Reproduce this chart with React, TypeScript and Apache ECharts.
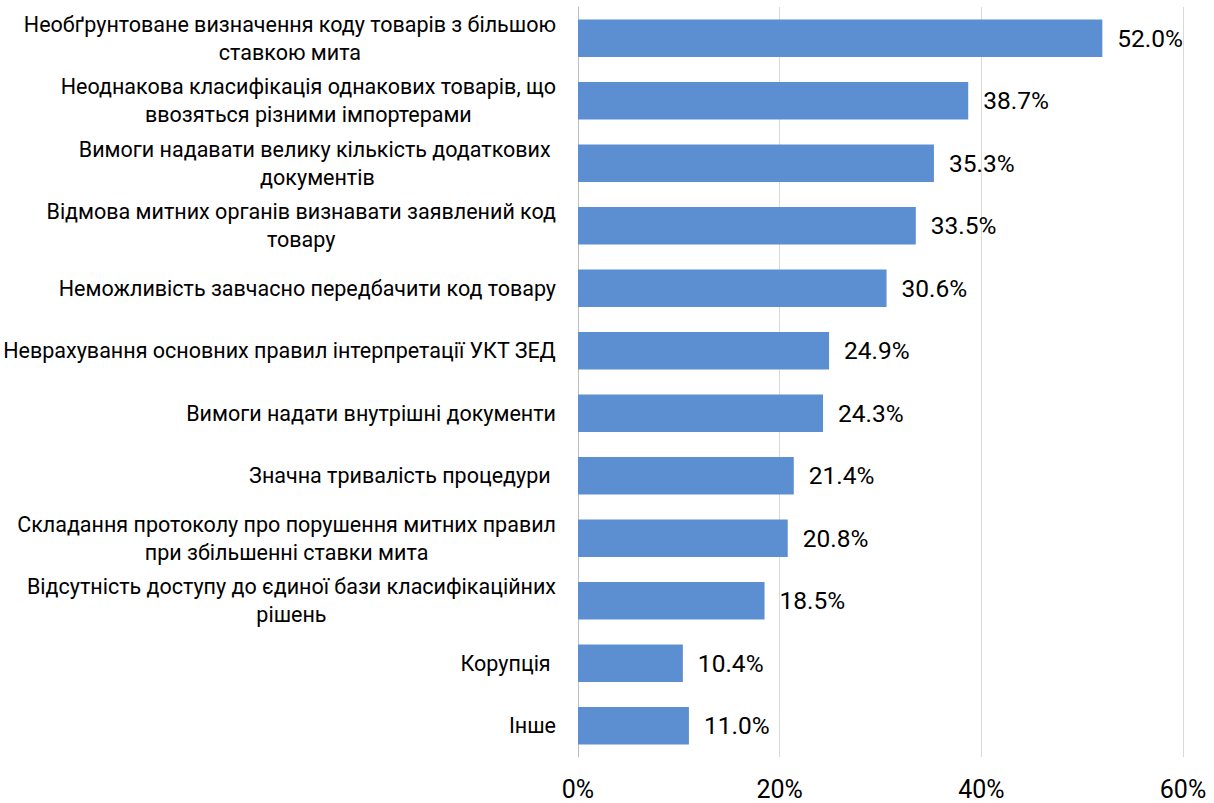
import React, { useEffect, useRef } from "react";
import * as echarts from "echarts";

const categories: string[] = [
  "Необґрунтоване визначення коду товарів з більшою\nставкою мита",
  "Неоднакова класифікація однакових товарів, що\nввозяться різними імпортерами",
  "Вимоги надавати велику кількість додаткових \nдокументів",
  "Відмова митних органів визнавати заявлений код\nтовару",
  "Неможливість завчасно передбачити код товару",
  "Неврахування основних правил інтерпретації УКТ ЗЕД",
  "Вимоги надати внутрішні документи",
  "Значна тривалість процедури ",
  "Складання протоколу про порушення митних правил\nпри збільшенні ставки мита",
  "Відсутність доступу до єдиної бази класифікаційних\nрішень",
  "Корупція ",
  "Інше",
];

const values: number[] = [52.0, 38.7, 35.3, 33.5, 30.6, 24.9, 24.3, 21.4, 20.8, 18.5, 10.4, 11.0];

const FONT = "Roboto";

export default function App() {
  const ref = useRef<HTMLDivElement>(null);
  useEffect(() => {
    if (!ref.current) return;
    const chart = echarts.init(ref.current, null, { renderer: "svg" });
    chart.setOption({
      animation: false,
      grid: { left: 578, right: 31, top: 7, bottom: 46, containLabel: false },
      xAxis: {
        type: "value",
        min: 0,
        max: 60,
        interval: 20,
        axisLine: { show: false },
        axisTick: { show: false },
        splitLine: { show: true, lineStyle: { color: "#d9d9d9", width: 1 } },
        axisLabel: {
          formatter: (v: number) => v + "%",
          fontFamily: FONT,
          fontSize: 25,
          color: "#000",
          margin: 20,
        },
      },
      yAxis: {
        type: "category",
        data: categories,
        inverse: true,
        axisLine: { show: true, lineStyle: { color: "#bfbfbf", width: 1 } },
        axisTick: { show: false },
        axisLabel: {
          fontFamily: FONT,
          fontSize: 21.5,
          color: "#000",
          margin: 22,
          align: "right",
          lineHeight: 28,
          formatter: (v: string) =>
            v
              .split("\n")
              .map((l) => "{c|" + l + "}")
              .join("\n"),
          rich: {
            c: { align: "center", fontFamily: FONT, fontSize: 21.5, lineHeight: 28, color: "#000" },
          },
        },
      },
      series: [
        {
          type: "bar",
          data: values,
          barCategoryGap: "40%",
          itemStyle: { color: "#5B8FD2" },
          label: {
            show: true,
            position: "right",
            distance: 15,
            formatter: (p: any) => Number(p.value).toFixed(1) + "%",
            fontFamily: FONT,
            fontSize: 24.5,
            color: "#000",
          },
        },
      ],
    });
    return () => chart.dispose();
  }, []);
  return <div ref={ref} style={{ width: 1214, height: 803, position: "absolute", left: 0, top: 0 }} />;
}
